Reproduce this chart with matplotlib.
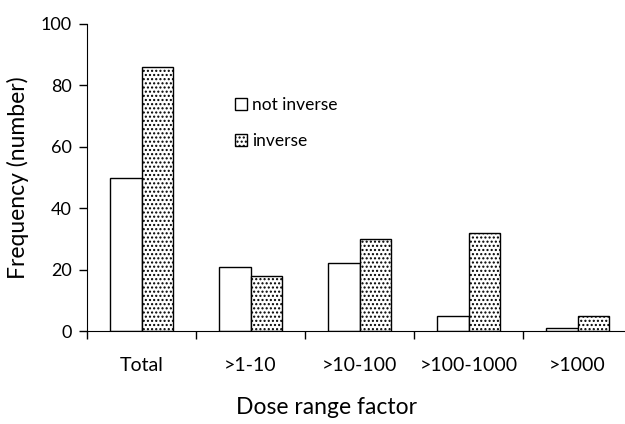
import matplotlib.pyplot as plt
from matplotlib.patches import Patch

categories = ['Total', '>1-10', '>10-100', '>100-1000', '>1000']
not_inverse = [50, 21, 22, 5, 1]
inverse = [86, 18, 30, 32, 5]

plt.rcParams['font.family'] = ['Lato', 'DejaVu Sans']
plt.rcParams['hatch.color'] = '#555555'
plt.rcParams['hatch.linewidth'] = 1.0

fig = plt.figure(figsize=(6.25, 4.24), dpi=100)
ax = fig.add_axes([87 / 625, 1 - 331 / 424, 545 / 625, 307 / 424])

x = list(range(len(categories)))
w = 0.285
ax.bar([i - w / 2 for i in x], not_inverse, width=w, color='white', edgecolor='black', linewidth=1.0, label='not inverse')
ax.bar([i + w / 2 for i in x], inverse, width=w, color='white', edgecolor='black', linewidth=1.0, hatch='....', label='inverse')

ax.set_xlim(-0.5, 4.5)
ax.set_ylim(0, 100)
ax.set_yticks(range(0, 101, 20))
ax.set_xticks([i - 0.5 for i in range(len(categories) + 1)])
ax.set_xticklabels([])
ax.set_xticks(x, minor=True)
ax.set_xticklabels(categories, minor=True)
ax.tick_params(axis='x', which='minor', length=0, pad=19, labelsize=14)
ax.tick_params(axis='x', which='major', length=6, direction='out', width=1)
ax.tick_params(axis='y', length=6, direction='out', width=1, labelsize=13, pad=5)

for s in ['top', 'right']:
    ax.spines[s].set_visible(False)

fig.text(327 / 625, 1 - 407 / 424, 'Dose range factor', fontsize=16.5, ha='center', va='center')
ax.set_ylabel('Frequency (number)', fontsize=16.5, labelpad=8)

handles = [Patch(facecolor='white', edgecolor='black', label='not inverse'),
           Patch(facecolor='white', edgecolor='black', hatch='....', label='inverse')]
ax.legend(handles=handles, frameon=False, loc='upper left', bbox_to_anchor=(0.255, 0.79),
          borderpad=0, handlelength=0.7, handleheight=0.7, handletextpad=0.3,
          labelspacing=1.15, fontsize=12.5)

fig.savefig('out.png', dpi=100)
